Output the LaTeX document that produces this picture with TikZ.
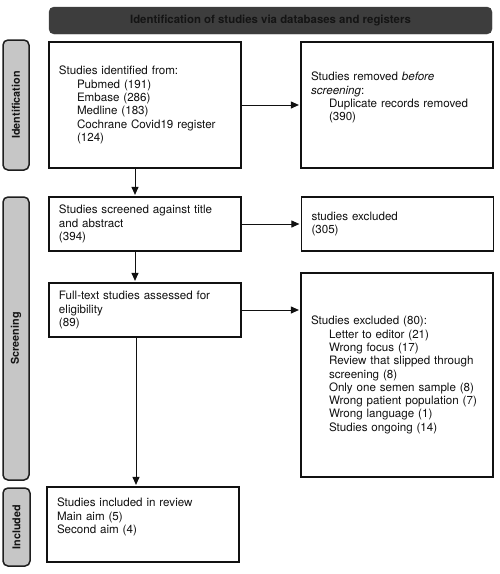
\documentclass[tikz,border=0pt]{standalone}
\usepackage{fontspec}
\setmainfont{TeX Gyre Heros}
\usetikzlibrary{arrows.meta,calc}
\definecolor{bannerfill}{HTML}{3D3D3D}
\definecolor{bannertext}{HTML}{141414}
\definecolor{sidefill}{HTML}{C6C6C6}
\definecolor{sidedraw}{HTML}{1E1E1E}
\definecolor{ink}{HTML}{111111}
\newcommand{\ind}{\hspace*{18pt}}
\begin{document}
\begin{tikzpicture}[x=1pt,y=-1pt,
  flowbox/.style={draw=ink, line width=1.2pt, text=ink, fill=white,
    minimum width=192pt, text width=172pt, inner xsep=10pt, inner ysep=0pt,
    align=left, font=\fontsize{11.6}{13.3}\selectfont},
  sidelabel/.style={draw=sidedraw, fill=sidefill, line width=1.5pt,
    rounded corners=5pt, minimum width=26pt, inner sep=0pt},
  sidetext/.style={rotate=90, text=bannertext, font=\bfseries\fontsize{10.8}{12}\selectfont},
  banner/.style={draw=bannerfill, fill=bannerfill, rounded corners=5pt,
    minimum width=443pt, minimum height=27pt, inner sep=0pt, text=bannertext,
    font=\bfseries\fontsize{11.4}{13}\selectfont},
  arr/.style={draw=ink, line width=1pt, shorten >=1.5pt, -{Triangle[length=8pt,width=7pt]}}]
\useasboundingbox (0,0) rectangle (500,574);

\node[banner] (ban) at (270.5,20.5) {Identification of studies via databases and registers};

\node[sidelabel, minimum height=130pt] (sid) at (16,105) {};
\node[sidetext] (sidt) at (sid.center) {Identification};
\node[sidelabel, minimum height=283pt] (sscr) at (16,338.5) {};
\node[sidetext] (sscrt) at (sscr.center) {Screening};
\node[sidelabel, minimum height=78pt, minimum width=27pt] (sinc) at (16.5,527) {};
\node[sidetext] (sinct) at (sinc.center) {Included};

\node[flowbox, minimum height=126pt] (b1) at (145,105) {Studies identified from:\\
\ind Pubmed (191)\\
\ind Embase (286)\\
\ind Medline (183)\\
\ind Cochrane Covid19 register\\
\ind (124)};

\node[flowbox, minimum height=126pt] (b2) at (397,105) {Studies removed \emph{before}\\
\emph{screening}:\\
\ind Duplicate records removed\\
\ind (390)\\ \strut};

\node[flowbox, minimum height=54pt] (b3) at (145,224) {Studies screened against title\\
and abstract\\
(394)};

\node[flowbox, minimum height=54pt] (b4) at (397.5,224) {studies excluded\\
(305)};

\node[flowbox, minimum height=54pt] (b5) at (145,310) {Full-text studies assessed for\\
eligibility\\
(89)};

\node[flowbox, minimum height=204pt] (b6) at (397,375) {Studies excluded (80):\\
\ind Letter to editor (21)\\
\ind Wrong focus (17)\\
\ind Review that slipped through\\
\ind screening (8)\\
\ind Only one semen sample (8)\\
\ind Wrong patient population (7)\\
\ind Wrong language (1)\\
\ind Studies ongoing (14)};

\node[flowbox, minimum height=75pt] (b7) at (143,524.5) {Studies included in review\\
Main aim (5)\\
Second aim (4)\\ \strut};

\coordinate (ax) at (135,0);
\coordinate (ax2) at (136,0);

\draw[arr] (b1.east) -- (b2.west |- b1.east);
\draw[arr] (b3.east) -- (b4.west |- b3.east);
\draw[arr] (b5.east) -- (b6.west |- b5.east);
\draw[arr] (b1.south -| ax) -- (b3.north -| ax);
\draw[arr] (b3.south -| ax) -- (b5.north -| ax);
\draw[arr] (b5.south -| ax2) -- (b7.north -| ax2);
\end{tikzpicture}
\end{document}
